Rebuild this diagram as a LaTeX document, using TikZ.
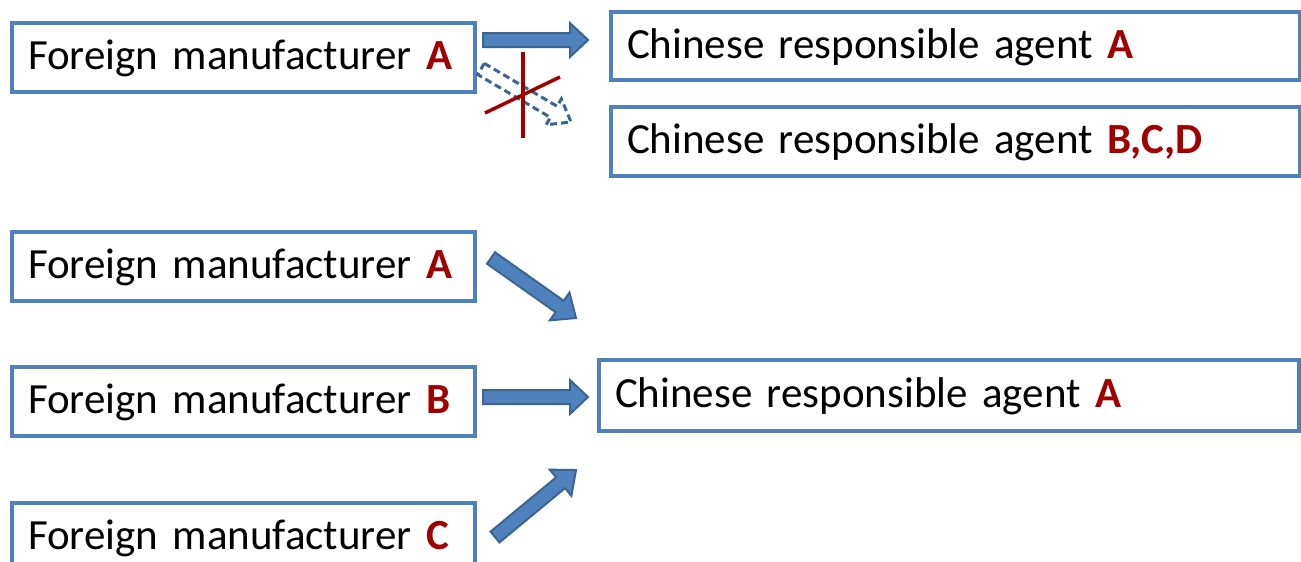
\documentclass[tikz,border=0pt]{standalone}
\usepackage{fontspec}
\setmainfont{Carlito}
\usetikzlibrary{calc}
\definecolor{boxblue}{HTML}{4F81BD}
\definecolor{arrline}{HTML}{3A6494}
\definecolor{darkred}{HTML}{A00000}
\newcommand{\hl}[1]{\textcolor{darkred}{\bfseries #1}}
% style, from, to, shaft half width, head half width, head length
\newcommand{\blockarr}[6]{%
  \coordinate (ba-n) at ($(#3)!#6!(#2)$);
  \path[#1] ($(#2)!#4!90:(#3)$) -- ($(ba-n)!#4!-90:(#2)$) -- ($(ba-n)!#5!-90:(#2)$) -- (#3)
    -- ($(ba-n)!#5!90:(#2)$) -- ($(ba-n)!#4!90:(#2)$) -- ($(#2)!#4!-90:(#3)$) -- cycle;
}
\begin{document}
\begin{tikzpicture}[x=1pt,y=-1pt,
  box/.style={draw=boxblue, line width=4pt, anchor=north west, inner xsep=16pt, inner ysep=0pt,
    align=left, font=\fontsize{43}{50}\selectfont, text height=30pt, text depth=6pt},
  barrow/.style={fill=boxblue, draw=arrline, line width=2pt, line join=miter},
  dasharrow/.style={fill=white, draw=arrline, line width=3pt, dash pattern=on 7pt off 4pt, line join=miter},
  crossline/.style={draw=darkred, line width=3.5pt}]
\useasboundingbox (0,0) rectangle (1301,562);
\fill[white] (0,0) rectangle (1301,562);
% boxes
\node[box, minimum width=463, minimum height=69, text width=431] (fa1) at (10,21) {Foreign manufacturer \hl{A}};
\node[box, minimum width=689, minimum height=68, text width=657] (ca1) at (609,10) {Chinese responsible agent \hl{A}};
\node[box, minimum width=689, minimum height=69, text width=657] (cb) at (609,105) {Chinese responsible agent \hl{B,C,D}};
\node[box, minimum width=463, minimum height=69, text width=431] (fa2) at (10,230) {Foreign manufacturer \hl{A}};
\node[box, minimum width=463, minimum height=69, text width=431] (fb) at (10,365) {Foreign manufacturer \hl{B}};
\node[box, minimum width=700, minimum height=71, text width=668] (ca2) at (597,358) {Chinese responsible agent \hl{A}};
\node[box, minimum width=463, minimum height=69, text width=431] (fc) at (10,501) {Foreign manufacturer \hl{C}};
% arrow end points
\coordinate (a1s) at (483,40);  \coordinate (a1e) at (588,40);
\coordinate (d1s) at (481,69);  \coordinate (d1e) at (571,122);
\coordinate (x1a) at (523,52);  \coordinate (x1b) at (523,138);
\coordinate (x2a) at (485,113); \coordinate (x2b) at (560,77);
\coordinate (a2s) at (491,258); \coordinate (a2e) at (576,318);
\coordinate (a3s) at (483,397); \coordinate (a3e) at (588,397);
\coordinate (a4s) at (495,537); \coordinate (a4e) at (576,470);
% arrows
\blockarr{barrow}{a1s}{a1e}{7pt}{17pt}{18pt}
\blockarr{dasharrow}{d1s}{d1e}{6.5pt}{15pt}{20pt}
\draw[crossline] (x1a) -- (x1b);
\draw[crossline] (x2a) -- (x2b);
\blockarr{barrow}{a2s}{a2e}{7pt}{17pt}{20pt}
\blockarr{barrow}{a3s}{a3e}{7pt}{17pt}{18pt}
\blockarr{barrow}{a4s}{a4e}{7pt}{17pt}{20pt}
\end{tikzpicture}
\end{document}
